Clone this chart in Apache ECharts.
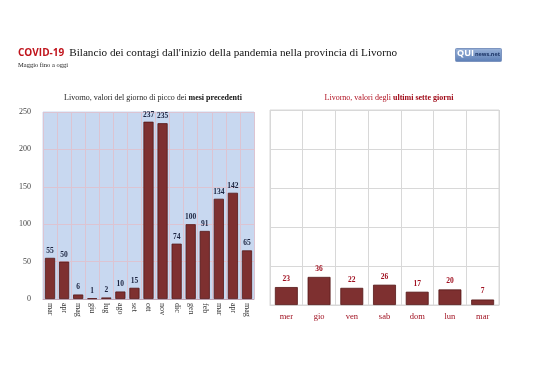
<!DOCTYPE html>
<html><head><meta charset="utf-8">
<script src="https://cdn.jsdelivr.net/npm/echarts@6/dist/echarts.min.js"></script>
<style>html,body{margin:0;padding:0;background:#fff}#c{width:538px;height:380px}</style>
</head><body><div id="c"></div>
<script>
const monthCats = ['mar','apr','mag','giu','lug','ago','set','ott','nov','dic','gen','feb','mar','apr','mag'];
const monthVals = [55,50,6,1,2,10,15,237,235,74,100,91,134,142,65];
const dayCats = ['mer','gio','ven','sab','dom','lun','mar'];
const dayVals = [23,36,22,26,17,20,7];
const yTicks = [0,50,100,150,200,250];

const serif = 'Liberation Serif';
const barFill = '#7e3030';
const barBorder = '#561818';
const chart = echarts.init(document.getElementById('c'));
chart.setOption({
  backgroundColor: '#ffffff',
  animation: false,
  title: [
    {left: 13, top: 39, text: '{a|COVID-19} {b|Bilancio dei contagi dall\'inizio della pandemia nella provincia di Livorno}',
     textStyle: {fontWeight: 'normal', rich: {a: {fontFamily: 'Open Sans', fontWeight: 'bold', fontSize: 10, color: '#c0141c'},
                        b: {fontFamily: serif, fontWeight: 'normal', fontSize: 11.2, color: '#111'}}}},
    {left: 13, top: 57, text: 'Maggio fino a oggi', textStyle: {fontFamily: serif, fontSize: 6.5, fontWeight: 'normal', color: '#222'}},
    {left: 148, top: 89, textAlign: 'center', text: '{a|Livorno, valori del giorno di picco dei }{b|mesi precedenti}',
     textStyle: {fontWeight: 'normal', rich: {a: {fontFamily: serif, fontWeight: 'normal', fontSize: 8, color: '#222'}, b: {fontFamily: serif, fontSize: 8, fontWeight: 'bold', color: '#111'}}}},
    {left: 384, top: 89, textAlign: 'center', text: '{a|Livorno, valori degli }{b|ultimi sette giorni}',
     textStyle: {fontWeight: 'normal', rich: {a: {fontFamily: serif, fontWeight: 'normal', fontSize: 8, color: '#b01020'}, b: {fontFamily: serif, fontSize: 8, fontWeight: 'bold', color: '#a00a18'}}}}
  ],
  graphic: [
    {type: 'rect', left: 455, top: 48, shape: {width: 46, height: 13, r: 1},
     style: {fill: new echarts.graphic.LinearGradient(0,0,0,1,[{offset:0,color:'#9bb4da'},{offset:1,color:'#5a7db5'}]), stroke: '#7d95c0'}},
    {type: 'text', left: 457, top: 49, style: {text: 'QUI', fontFamily: 'Open Sans', fontWeight: 'bold', fontSize: 9, fill: '#fff'}},
    {type: 'text', left: 475, top: 51.5, style: {text: 'news.net', fontFamily: 'Open Sans', fontWeight: 'bold', fontSize: 5.5, fill: '#1d3566'}}
  ],
  grid: [
    {left: 43, right: 284, top: 112, bottom: 81, show: true, backgroundColor: '#c8d8f0', borderColor: '#c8d8f0', containLabel: false},
    {left: 270, right: 39, top: 110, bottom: 75, show: true, backgroundColor: '#fff', borderColor: '#d8d8d8', containLabel: false}
  ],
  xAxis: [
    {type: 'category', gridIndex: 0, data: monthCats,
     axisLine: {lineStyle: {color: '#c0a8b8'}}, axisTick: {show: false},
     axisLabel: {rotate: -90, fontFamily: serif, fontSize: 8, color: '#333', margin: 4, interval: 0},
     splitLine: {show: true, lineStyle: {color: '#dcc4d2', width: 1}}},
    {type: 'category', gridIndex: 1, data: dayCats,
     axisLine: {lineStyle: {color: '#d8d8d8'}}, axisTick: {show: false},
     axisLabel: {fontFamily: serif, fontSize: 8.5, color: '#a01020', margin: 7, interval: 0},
     splitLine: {show: true, lineStyle: {color: '#d8d8d8', width: 1}}}
  ],
  yAxis: [
    {type: 'value', gridIndex: 0, min: yTicks[0], max: yTicks[yTicks.length-1], interval: 50,
     axisLine: {show: false}, axisTick: {show: false},
     axisLabel: {fontFamily: serif, fontSize: 8, color: '#444', margin: 12},
     splitLine: {lineStyle: {color: '#dcc4d2', width: 1}}},
    {type: 'value', gridIndex: 1, min: yTicks[0], max: yTicks[yTicks.length-1], interval: 50,
     axisLine: {show: false}, axisTick: {show: false}, axisLabel: {show: false},
     splitLine: {lineStyle: {color: '#d8d8d8', width: 1}}}
  ],
  series: [
    {type: 'bar', xAxisIndex: 0, yAxisIndex: 0, data: monthVals, barWidth: '72%',
     itemStyle: {color: barFill, borderColor: barBorder, borderWidth: 0.8},
     label: {show: true, position: 'top', distance: 3, fontFamily: serif, fontWeight: 'bold', fontSize: 7.5, color: '#1c2440'}},
    {type: 'bar', xAxisIndex: 1, yAxisIndex: 1, data: dayVals, barWidth: '70%',
     itemStyle: {color: barFill, borderColor: barBorder, borderWidth: 0.8},
     label: {show: true, position: 'top', distance: 4, fontFamily: serif, fontWeight: 'bold', fontSize: 7.5, color: '#a01020'}}
  ]
});
</script></body></html>
